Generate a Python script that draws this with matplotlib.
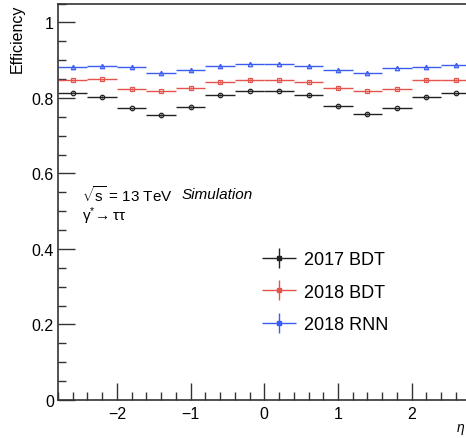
import numpy as np
import matplotlib
matplotlib.use("Agg")
import matplotlib.pyplot as plt
from matplotlib.legend_handler import HandlerErrorbar

plt.rcParams['font.family'] = ['Liberation Sans', 'DejaVu Sans']
plt.rcParams['mathtext.fontset'] = 'custom'
plt.rcParams['mathtext.rm'] = 'Liberation Sans'
plt.rcParams['mathtext.it'] = 'Liberation Sans:italic'

# bin edges in eta
bin_edges = [-2.8, -2.4, -2.0, -1.6, -1.2, -0.8, -0.4, 0.0, 0.4, 0.8, 1.2, 1.6, 2.0, 2.4, 2.8]

eff_2017_bdt = [0.814, 0.803, 0.772, 0.755, 0.776, 0.808, 0.819,
                0.819, 0.808, 0.778, 0.758, 0.772, 0.803, 0.812]
eff_2018_bdt = [0.847, 0.849, 0.824, 0.817, 0.826, 0.842, 0.847,
                0.847, 0.842, 0.826, 0.817, 0.824, 0.848, 0.847]
eff_2018_rnn = [0.882, 0.884, 0.882, 0.866, 0.873, 0.885, 0.891,
                0.891, 0.884, 0.873, 0.866, 0.880, 0.882, 0.887]
eff_err = [0.002] * 14

labels = ["2017 BDT", "2018 BDT", "2018 RNN"]
colors = ["#222222", "#e5544c", "#3a5cf0"]
markers = ["o", "s", "^"]

edges = np.array(bin_edges)
centers = 0.5 * (edges[1:] + edges[:-1])
half_w = 0.5 * (edges[1:] - edges[:-1])

fig = plt.figure(figsize=(4.66, 4.39), dpi=100)
ax = fig.add_axes([58 / 466, 38 / 439, 412.6 / 466, 396.5 / 439])

handles = []
for vals, col, mk, lab in zip([eff_2017_bdt, eff_2018_bdt, eff_2018_rnn], colors, markers, labels):
    ax.errorbar(centers, vals, xerr=half_w, yerr=eff_err, fmt=mk, color=col,
                mfc='none', mec=col, ms=3.2, mew=0.9, lw=1.0, capsize=0)
    h = ax.errorbar([np.nan], [np.nan], xerr=[0.1], yerr=[0.1], fmt='s', color=col,
                    ms=2.2, lw=1.0, capsize=0, label=lab)
    handles.append(h)

ax.set_xlim(-2.8, 2.8)
ax.set_ylim(0, 1.05)
ax.set_yticks([0, 0.2, 0.4, 0.6, 0.8, 1.0])
ax.set_yticklabels(["0", "0.2", "0.4", "0.6", "0.8", "1"])
ax.set_xticks([-2, -1, 0, 1, 2])
ax.set_xticks(np.arange(-2.8, 2.81, 0.2), minor=True)
ax.set_yticks(np.arange(0, 1.051, 0.05), minor=True)
ax.tick_params(which='both', direction='in', labelsize=11.5, colors='#333333', labelcolor='black')
ax.tick_params(which='major', length=12, width=1.0)
ax.tick_params(which='minor', length=6, width=1.0)
ax.tick_params(axis='y', pad=3)
ax.tick_params(axis='x', pad=4)
for s in ax.spines.values():
    s.set_color('#333333')
    s.set_linewidth(1.2)

ax.set_ylabel("Efficiency", fontsize=11.5, loc='top', labelpad=5)
fig.text(0.997, 0.005, r"$\eta$", ha='right', va='bottom', fontsize=10)

ax.text(0.057, 0.52, r"$\sqrt{\mathrm{s}}$ = 13 TeV", transform=ax.transAxes, fontsize=11, va='center')
ax.text(0.30, 0.52, "Simulation", transform=ax.transAxes, fontsize=11, va='center', style='italic')
ax.text(0.057, 0.467, r"$\mathrm{\gamma}^{*}\!\rightarrow \mathrm{\tau\tau}$", transform=ax.transAxes,
        fontsize=11, va='center')

ax.legend(handles=handles, labels=labels, loc='upper left', bbox_to_anchor=(0.494, 0.375),
          frameon=False, fontsize=13, borderpad=0, borderaxespad=0, labelspacing=0.85,
          handlelength=1.9, handletextpad=0.45,
          handler_map={type(handles[0]): HandlerErrorbar(xerr_size=0.95, yerr_size=0.55)})

fig.savefig("out.png", dpi=100)
